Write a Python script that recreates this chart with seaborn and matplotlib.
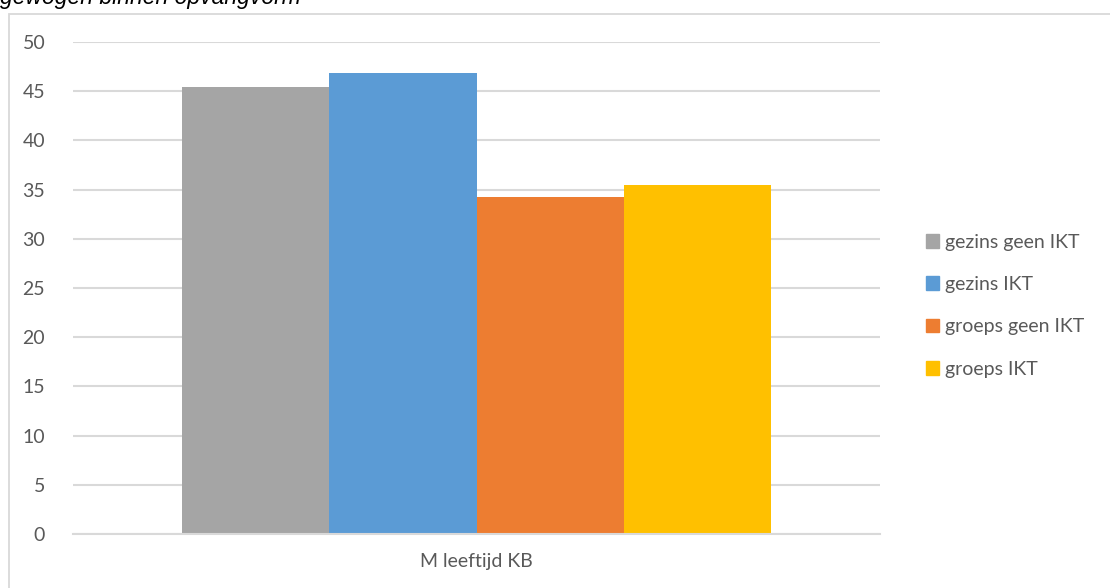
import pandas as pd
import matplotlib
matplotlib.use('Agg')
import matplotlib.pyplot as plt
import matplotlib.patches as mpatches
import seaborn as sns

categorie = ['M leeftijd KB']
groepen = ['gezins geen IKT', 'gezins IKT', 'groeps geen IKT', 'groeps IKT']
waarden = [45.4, 46.9, 34.2, 35.5]
kleuren = ['#a5a5a5', '#5b9bd5', '#ed7d31', '#ffc000']
y_ticks = [0, 5, 10, 15, 20, 25, 30, 35, 40, 45, 50]

df = pd.DataFrame({
    'categorie': categorie * len(groepen),
    'groep': groepen,
    'waarde': waarden,
})

sns.set_style('white')
plt.rcParams['font.family'] = ['Lato', 'DejaVu Sans']

tekst_kleur = '#595959'
lijn_kleur = '#d9d9d9'

fig = plt.figure(figsize=(11.1, 5.88), dpi=100)
ax = fig.add_axes([73 / 1110, 1 - 534 / 588, (880 - 73) / 1110, (534 - 42) / 588])

sns.barplot(data=df, x='categorie', y='waarde', hue='groep', hue_order=groepen,
            palette=kleuren, width=0.73, gap=0, saturation=1, linewidth=0,
            ax=ax, legend=False)

ax.set_xlim(-0.5, 0.5)
ax.set_ylim(0, 50)
ax.set_yticks(y_ticks)
ax.yaxis.grid(True, color=lijn_kleur, linewidth=1.5)
ax.set_axisbelow(True)
for side in ['left', 'right', 'top']:
    ax.spines[side].set_visible(False)
ax.spines['bottom'].set_color(lijn_kleur)
ax.spines['bottom'].set_linewidth(1.5)
ax.tick_params(axis='both', length=0, labelsize=14, colors=tekst_kleur)
ax.tick_params(axis='y', pad=20)
ax.tick_params(axis='x', pad=14)
ax.set_xlabel('')
ax.set_ylabel('')

handles = [mpatches.Patch(color=c, label=g) for c, g in zip(kleuren, groepen)]
fig.legend(handles=handles, loc='upper left', bbox_to_anchor=(918 / 1110, 1 - 226 / 588),
           frameon=False, fontsize=14, labelcolor=tekst_kleur, handlelength=0.7,
           handleheight=0.7, handletextpad=0.3, labelspacing=1.3, borderaxespad=0)

# kader rond de grafiek
fig.patches.append(mpatches.Rectangle((9 / 1110, -0.1), 1.2, 1 - 13.5 / 588 + 0.1,
                                      transform=fig.transFigure, fill=False,
                                      edgecolor=lijn_kleur, linewidth=1.3))

# afgesneden titel boven het kader, zoals in het origineel
fig.text(0.0, 1 - 4 / 588, 'gewogen binnen opvangvorm', ha='left', va='baseline',
         fontsize=16.5, style='italic', family=['Liberation Sans', 'DejaVu Sans'], color='black')

fig.savefig('out.png', dpi=100)
